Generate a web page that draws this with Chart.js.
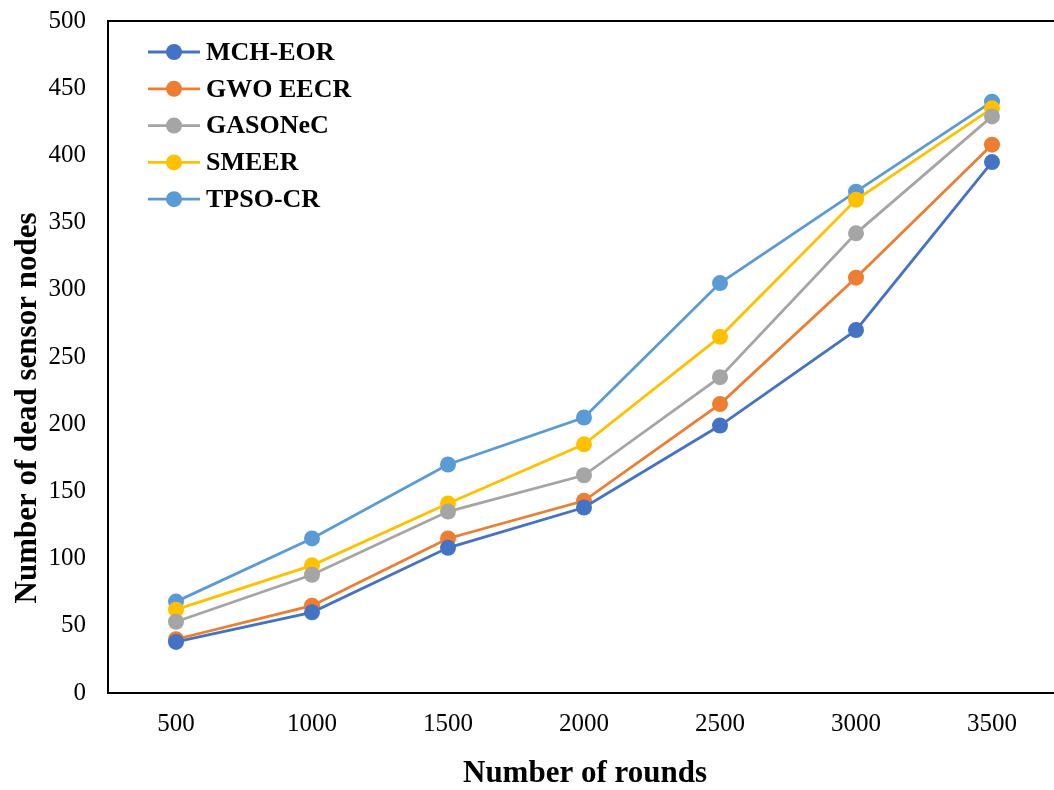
<!DOCTYPE html>
<html>
<head>
<meta charset="utf-8">
<script src="https://cdn.jsdelivr.net/npm/chart.js@4/dist/chart.umd.min.js"></script>
<style>
  html, body { margin: 0; padding: 0; background: #fff; overflow: hidden; }
  #wrap { width: 1068px; height: 790px; }
</style>
</head>
<body>
<div id="wrap"><canvas id="deadNodesChart"></canvas></div>
<script>
const rounds = ['500', '1000', '1500', '2000', '2500', '3000', '3500'];
const mchEor   = [38, 60, 108, 138, 199, 270, 395];
const gwoEecr  = [40, 65, 115, 143, 215, 309, 408];
const gasonec  = [53, 88, 135, 162, 235, 342, 429];
const smeer    = [62, 95, 141, 185, 265, 367, 435];
const tpsoCr   = [68, 115, 170, 205, 305, 373, 440];
const yTicks   = [0, 50, 100, 150, 200, 250, 300, 350, 400, 450, 500];

const serif = "'Liberation Serif', 'Times New Roman', serif";

function series(label, data, color) {
  return {
    label: label,
    data: data,
    borderColor: color,
    backgroundColor: color,
    borderWidth: 2.8,
    pointRadius: 8,
    pointHoverRadius: 8,
    pointBorderWidth: 0,
    tension: 0,
  };
}

// box round the plot, legend inside it, and the two axis titles
const framePlugin = {
  id: 'frame',
  afterDatasetsDraw(chart) {
    const ctx = chart.ctx;
    const a = chart.chartArea;
    ctx.save();
    ctx.strokeStyle = '#000';
    ctx.lineWidth = 2;
    ctx.strokeRect(a.left, a.top, a.right - a.left, a.bottom - a.top);

    // legend
    ctx.font = 'bold 26px ' + serif;
    ctx.textBaseline = 'middle';
    ctx.textAlign = 'left';
    chart.data.datasets.forEach((ds, i) => {
      const y = 52 + i * 36.8;
      ctx.strokeStyle = ds.borderColor;
      ctx.lineWidth = 2.8;
      ctx.beginPath();
      ctx.moveTo(148, y);
      ctx.lineTo(200, y);
      ctx.stroke();
      ctx.fillStyle = ds.borderColor;
      ctx.beginPath();
      ctx.arc(174, y, 8, 0, Math.PI * 2);
      ctx.fill();
      ctx.fillStyle = '#000';
      ctx.fillText(ds.label, 206, y + 1);
    });

    // axis titles
    ctx.font = 'bold 31px ' + serif;
    ctx.fillStyle = '#000';
    ctx.textAlign = 'center';
    ctx.fillText('Number of rounds', 585, 774);
    ctx.translate(28, 408);
    ctx.rotate(-Math.PI / 2);
    ctx.fillText('Number of dead sensor nodes', 0, 0);
    ctx.restore();
  }
};

new Chart(document.getElementById('deadNodesChart'), {
  type: 'line',
  data: {
    labels: rounds,
    datasets: [
      series('MCH-EOR', mchEor, '#4472C4'),
      series('GWO EECR', gwoEecr, '#ED7D31'),
      series('GASONeC', gasonec, '#A5A5A5'),
      series('SMEER', smeer, '#FFC000'),
      series('TPSO-CR', tpsoCr, '#5B9BD5'),
    ]
  },
  options: {
    responsive: true,
    maintainAspectRatio: false,
    animation: false,
    layout: { autoPadding: false, padding: { top: 21, right: 8, left: 0, bottom: 0 } },
    plugins: {
      legend: { display: false },
      tooltip: { enabled: false },
    },
    scales: {
      x: {
        offset: true,
        grid: { display: false, drawTicks: false },
        border: { display: false },
        ticks: {
          color: '#000',
          padding: 16,
          font: { family: serif, size: 25 },
          maxRotation: 0,
        },
        afterFit(scale) {
          scale.height = 97;
          scale.paddingLeft = 0;
          scale.paddingRight = 0;
        },
      },
      y: {
        min: 0,
        max: 500,
        grid: { display: false, drawTicks: false },
        border: { display: false },
        afterBuildTicks(scale) { scale.ticks = yTicks.map(v => ({ value: v })); },
        ticks: {
          color: '#000',
          padding: 22,
          font: { family: serif, size: 25 },
        },
        afterFit(scale) {
          scale.width = 108;
          scale.paddingTop = 0;
          scale.paddingBottom = 0;
        },
      }
    }
  },
  plugins: [framePlugin]
});
</script>
</body>
</html>
